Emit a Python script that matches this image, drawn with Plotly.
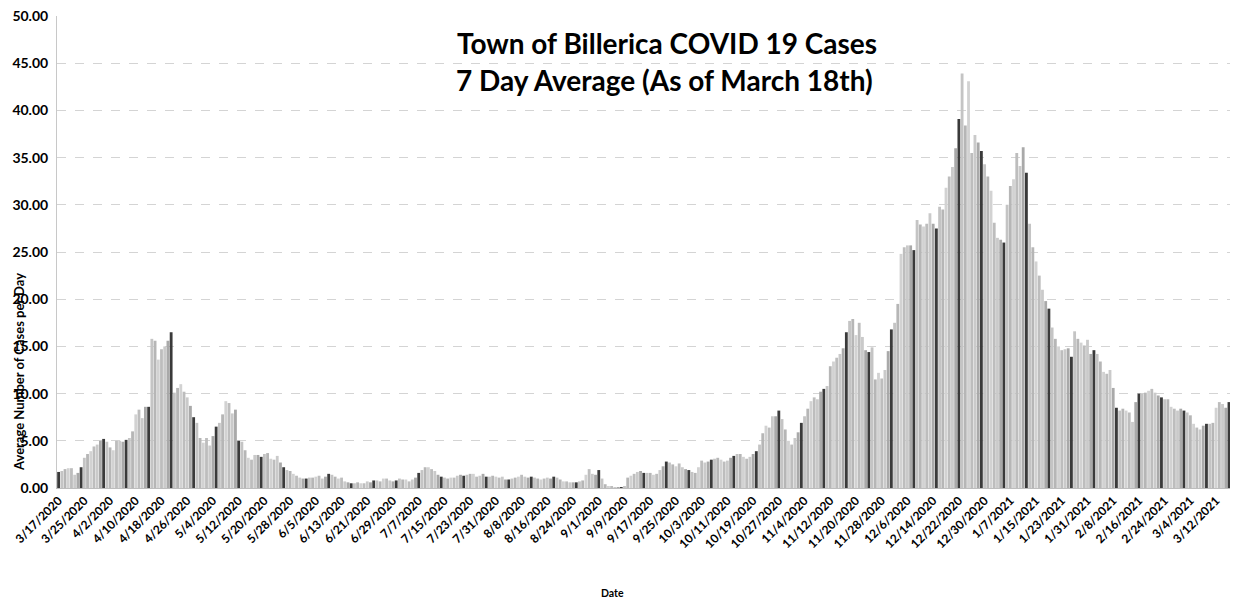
import pandas as pd
import plotly.graph_objects as go

# 7-day average of daily cases, Billerica, 3/17/2020 - 3/18/2021
spring_2020 = [1.7, 1.8, 2.0, 2.1, 2.1, 1.4, 1.6, 2.2, 3.2, 3.6,
               3.9, 4.4, 4.6, 5.0, 5.2, 4.9, 4.3, 4.0, 5.0, 5.0,
               4.9, 5.1, 5.3, 6.0, 7.8, 8.3, 7.4, 8.6, 8.6, 15.8,
               15.6, 13.6, 14.7, 15.0, 15.6, 16.5, 10.1, 10.6, 11.0, 10.2,
               9.6, 8.7, 7.5, 6.9, 5.3, 4.8, 5.3, 4.5, 5.5, 6.5,
               6.9, 7.8, 9.2, 9.0, 7.9, 8.3, 5.0, 4.9]
summer_2020 = [4.0, 3.2, 3.0, 3.5, 3.5, 3.3, 3.6, 3.7, 3.1, 3.0,
               3.4, 2.7, 2.2, 1.9, 1.8, 1.5, 1.3, 1.1, 1.0, 1.0,
               1.1, 1.1, 1.2, 1.3, 1.0, 1.2, 1.5, 1.4, 1.2, 1.0,
               1.1, 0.7, 0.6, 0.5, 0.5, 0.6, 0.5, 0.5, 0.7, 0.6,
               0.8, 0.8, 0.7, 1.0, 1.0, 0.8, 0.7, 0.8, 1.0, 0.9,
               0.9, 0.7, 0.9, 1.1, 1.6, 1.9, 2.2, 2.2, 2.0, 1.8,
               1.4, 1.2, 1.1, 1.0, 1.1, 1.1, 1.3, 1.4, 1.3, 1.4,
               1.5, 1.5, 1.2, 1.3, 1.5, 1.2, 1.2, 1.3, 1.2, 1.1,
               1.2, 0.9, 0.9, 1.0, 1.1, 1.2, 1.4, 1.2, 1.1, 1.2,
               1.1, 1.0, 0.9, 1.0, 1.1, 1.0, 1.2, 1.1]
early_fall_2020 = [0.9, 0.7, 0.7, 0.6, 0.6, 0.6, 0.7, 0.8, 1.4, 2.0,
                   1.5, 1.4, 1.9, 1.0, 0.4, 0.2, 0.2, 0.1, 0.1, 0.1,
                   0.2, 1.1, 1.3, 1.5, 1.7, 1.8, 1.6, 1.6, 1.6, 1.4,
                   1.5, 1.9, 2.3, 2.8, 2.7, 2.5, 2.3, 2.6, 2.2, 2.0,
                   1.9, 1.7, 1.6, 2.2, 2.9, 2.7, 2.8, 3.0, 3.1, 3.2,
                   3.0, 2.8, 2.9, 3.2, 3.4, 3.6, 3.6, 3.3, 3.1, 3.3,
                   3.6, 3.9, 4.6, 5.8, 6.6, 6.4, 7.6, 7.6, 8.2, 7.3,
                   6.2, 5.0]
late_fall_2020 = [4.6, 5.3, 5.9, 6.9, 7.6, 8.4, 9.2, 9.6, 9.4,
                  10.2, 10.5, 10.8, 12.9, 13.4, 13.8, 14.2, 14.8, 16.5, 17.7,
                  17.9, 16.2, 17.5, 16.0, 14.6, 14.4, 14.9, 11.5, 12.2, 11.6,
                  12.5, 14.5, 16.8, 17.5, 19.5, 24.8, 25.5, 25.7, 25.7, 25.2,
                  28.4, 27.9, 27.7, 28.0, 29.1, 28.0, 27.5, 29.8]
winter_2020 = [29.5, 31.8, 33.0, 34.0, 36.0, 39.1, 43.9, 38.4, 43.1, 35.5,
               37.4, 36.6, 35.7, 34.3, 33.0, 31.5, 28.1, 26.5, 26.3, 26.0,
               30.0, 32.0, 32.7, 35.5, 34.1, 36.1, 33.4, 28.0, 25.5, 24.0,
               22.5, 21.0, 19.8, 19.0, 17.0, 15.8, 15.0, 14.6, 14.7, 14.8,
               13.9, 16.6, 15.8, 15.4, 15.1]
winter_2021 = [15.7, 14.2, 14.6, 14.2, 13.4, 12.3, 12.1, 12.5, 10.6,
               8.5, 8.2, 8.4, 8.2, 8.0, 7.0, 9.1, 10.0, 10.0, 10.1,
               10.3, 10.5, 10.1, 9.8, 9.6, 9.4, 9.4, 8.6, 8.4, 8.2,
               8.4, 8.2, 8.0, 7.7, 6.8, 6.4, 6.2, 6.6, 6.8, 6.8,
               6.9, 8.5, 9.1, 8.9, 8.5, 9.1, 8.4, 6.8]

values = spring_2020 + summer_2020 + early_fall_2020 + late_fall_2020 + winter_2020 + winter_2021
dates = pd.date_range("2020-03-17", periods=len(values), freq="D")
categories = [f"{d.month}/{d.day}/{d.year}" for d in dates]
tick_labels = categories[::8]
y_ticks = [0, 5, 10, 15, 20, 25, 30, 35, 40, 45, 50]

weekday_shades = ["#a9a9a9", "#3a3a3a", "#c4c4c4", "#b6b6b6", "#d2d2d2", "#bdbdbd", "#cacaca"]
colors = [weekday_shades[d.weekday()] for d in dates]

FONT = "Lato"
# page position of the plot area (page has an 8px body margin)
PX0, PY1, PW, PH = 57, 488, 1180, 472


def px(x):
    return (x - PX0) / PW


def py(y):
    return (PY1 - y) / PH


fig = go.Figure(go.Bar(
    x=categories, y=values,
    marker=dict(color=colors, line=dict(width=0)),
    hovertemplate="%{x}: %{y:.2f}<extra></extra>",
))

fig.update_layout(
    width=1238, height=607,
    margin=dict(l=49, r=9, t=8, b=127),
    paper_bgcolor="white", plot_bgcolor="white",
    bargap=0.12, showlegend=False,
    font=dict(family=FONT, color="black"),
    xaxis=dict(
        type="category", range=[-0.5, len(values) - 0.5], automargin=False,
        tickmode="array", tickvals=tick_labels, ticktext=tick_labels,
        tickangle=-45, tickfont=dict(size=12, family=FONT, weight="bold"),
        showgrid=False, showline=True, linecolor="#bdbdbd", linewidth=1,
        ticks="", ticklabeloverflow="allow",
    ),
    yaxis=dict(
        range=[0, 50], tickvals=y_ticks, tickformat=".2f", automargin=False,
        tickfont=dict(size=14, family=FONT, weight="bold"),
        showgrid=True, gridcolor="#d4d4d4", gridwidth=1, griddash="dash",
        showline=True, linecolor="#c8c8c8", linewidth=1,
        zeroline=False, ticks="", ticklabelstandoff=5, ticklabeloverflow="allow",
    ),
    annotations=[
        dict(text="Town of Billerica COVID 19 Cases", xref="paper", yref="paper",
             x=px(667), y=py(43), xanchor="center", yanchor="middle", showarrow=False,
             font=dict(size=28, family=FONT, weight="bold")),
        dict(text="7 Day Average (As of March 18th)", xref="paper", yref="paper",
             x=px(664), y=py(80), xanchor="center", yanchor="middle", showarrow=False,
             font=dict(size=28, family=FONT, weight="bold")),
        dict(text="Average Number of Cases per Day", xref="paper", yref="paper",
             x=px(19), y=py(372), xanchor="center", yanchor="middle",
             textangle=-90, showarrow=False,
             font=dict(size=13, family=FONT, weight="bold")),
        dict(text="Date", xref="paper", yref="paper",
             x=px(612), y=py(593), xanchor="center", yanchor="middle", showarrow=False,
             font=dict(size=10.5, family=FONT, weight="bold")),
    ],
)

fig.write_html("out.html")
